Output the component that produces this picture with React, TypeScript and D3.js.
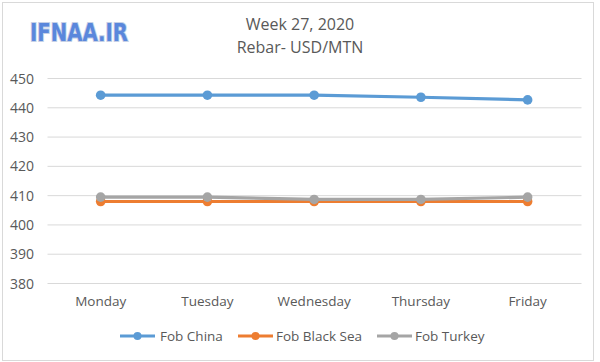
import React from "react";
import * as d3 from "d3";

const categories = ["Monday", "Tuesday", "Wednesday", "Thursday", "Friday"];
const fobChina = [444.3, 444.3, 444.3, 443.6, 442.7];
const fobBlackSea = [408, 408, 408, 408, 408];
const fobTurkey = [409.5, 409.5, 408.7, 408.7, 409.5];
const yTicks = [380, 390, 400, 410, 420, 430, 440, 450];
const seriesNames = ["Fob China", "Fob Black Sea", "Fob Turkey"];
const seriesColors = ["#5b9bd5", "#ed7d31", "#a5a5a5"];

const W = 600;
const H = 362;
const FONT = "'Open Sans', sans-serif";

export default function App() {
  const x = d3.scalePoint<string>().domain(categories).range([47.3, 581]).padding(0.5);
  const y = d3.scaleLinear().domain([380, 450]).range([283.5, 78.5]);
  const line = d3
    .line<number>()
    .x((_, i) => x(categories[i]) as number)
    .y((d) => y(d));
  const allSeries = [fobChina, fobBlackSea, fobTurkey];
  const drawOrder = [0, 1, 2];
  const legendX = [120, 238, 377];
  const legendTextX = [160, 276, 415];

  return (
    <svg
      width={W}
      height={H}
      style={{ position: "absolute", left: 0, top: 0, background: "#fff" }}
      fontFamily={FONT}
    >
      <rect x={0} y={0} width={W} height={H} fill="#fff" />
      <rect x={2.5} y={2.5} width={591} height={358} fill="#fff" stroke="#d9d9d9" strokeWidth={1} />
      {/* logo */}
      <text
        x={30}
        y={41}
        fontFamily="'DejaVu Sans Condensed', 'Liberation Sans Narrow', sans-serif"
        fontSize={25}
        fontWeight="bold"
        fill="#5a87dc"
        stroke="#c5d0e6"
        strokeWidth={2}
        paintOrder="stroke"
        textLength={98}
        lengthAdjust="spacingAndGlyphs"
      >
        IFNAA.IR
      </text>
      {/* title */}
      <text x={300} y={30} textAnchor="middle" fontSize={16} fill="#595959">
        Week 27, 2020
      </text>
      <text x={300} y={53} textAnchor="middle" fontSize={16} fill="#595959">
        Rebar- USD/MTN
      </text>
      {/* gridlines and y labels */}
      {yTicks.map((t) => (
        <g key={t}>
          <line x1={47.5} x2={581.5} y1={y(t)} y2={y(t)} stroke="#d9d9d9" strokeWidth={1} />
          <text x={34} y={y(t) + 5} textAnchor="end" fontSize={14} fill="#595959">
            {t}
          </text>
        </g>
      ))}
      {/* x labels */}
      {categories.map((c) => (
        <text key={c} x={x(c) as number} y={306} textAnchor="middle" fontSize={13.5} fill="#595959">
          {c}
        </text>
      ))}
      {/* series */}
      {drawOrder.map((si) => (
        <g key={si}>
          <path d={line(allSeries[si]) || ""} fill="none" stroke={seriesColors[si]} strokeWidth={3.2} strokeLinejoin="round" />
          {allSeries[si].map((v, i) => (
            <circle key={i} cx={x(categories[i]) as number} cy={y(v)} r={4.8} fill={seriesColors[si]} />
          ))}
        </g>
      ))}
      {/* legend */}
      {seriesNames.map((n, i) => (
        <g key={n}>
          <line x1={legendX[i]} x2={legendX[i] + 35} y1={336} y2={336} stroke={seriesColors[i]} strokeWidth={3} />
          <circle cx={legendX[i] + 17.5} cy={336} r={4} fill={seriesColors[i]} />
          <text x={legendTextX[i]} y={341} fontSize={13.5} fill="#595959">
            {n}
          </text>
        </g>
      ))}
    </svg>
  );
}
